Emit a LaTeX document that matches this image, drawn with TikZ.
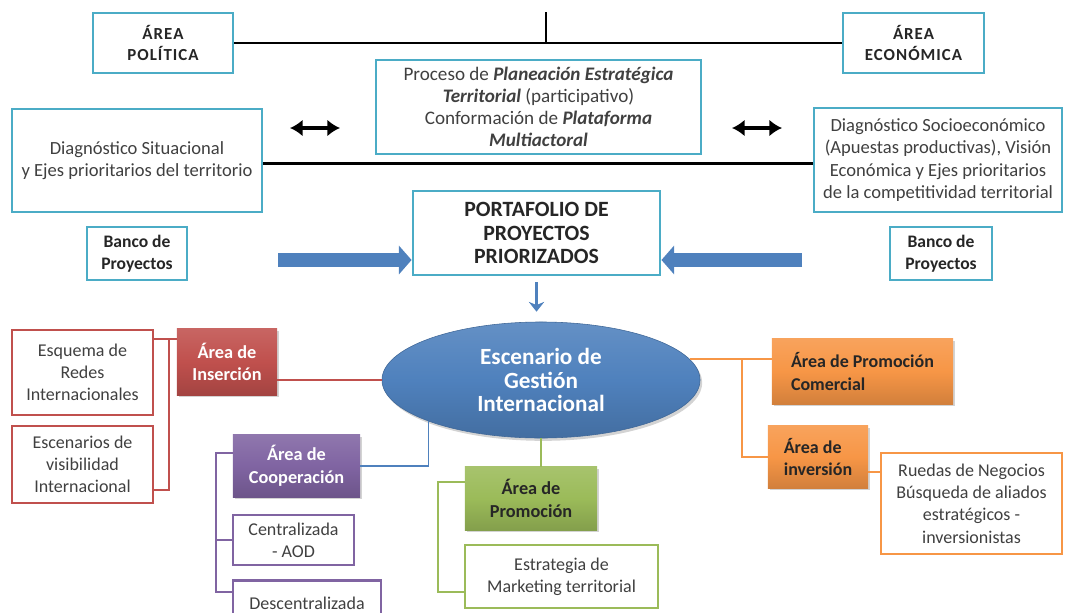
\documentclass[tikz,border=0pt]{standalone}
\usepackage{fontspec}
\setmainfont{Carlito}
\usepackage{tikz}
\usetikzlibrary{arrows.meta,shapes.geometric,shadows}

\definecolor{tealC}{HTML}{4BACC6}
\definecolor{redC}{HTML}{C0504D}
\definecolor{purpC}{HTML}{8064A2}
\definecolor{grnC}{HTML}{9BBB59}
\definecolor{oraC}{HTML}{F79646}
\definecolor{bluC}{HTML}{4F81BD}
\definecolor{txtC}{HTML}{404040}

\tikzset{
  tealbox/.style={draw=tealC,line width=2pt,fill=white,text=txtC,align=center,inner sep=2pt,font=\fontsize{13.2}{15.8}\selectfont},
  areabox/.style={tealbox,text=black!85,font=\fontsize{12}{15}\selectfont\bfseries\addfontfeature{LetterSpace=6}},
  bancobox/.style={tealbox,text=black!85,font=\fontsize{12.5}{16}\selectfont\bfseries},
  outbox/.style={fill=white,line width=2pt,text=txtC,align=center,inner sep=2pt,font=\fontsize{12.8}{15.8}\selectfont},
  fillbox/.style={align=center,inner sep=2pt,drop shadow={opacity=0.35,shadow xshift=1.5pt,shadow yshift=-1.5pt},font=\fontsize{13}{16}\selectfont\bfseries},
  redbox/.style={fillbox,top color=redC!88!white,bottom color=redC!85!black,middle color=redC,text=white},
  purpbox/.style={fillbox,top color=purpC!88!white,bottom color=purpC!85!black,middle color=purpC,text=white},
  grnbox/.style={fillbox,top color=grnC!88!white,bottom color=grnC!85!black,middle color=grnC,text=black!85},
  orabox/.style={fillbox,top color=oraC!88!white,bottom color=oraC!85!black,middle color=oraC,text=black!85,font=\fontsize{12.8}{16}\selectfont\bfseries},
  blkln/.style={line width=2pt},
  dblarr/.style={line width=2.6pt,{Latex[length=9pt,width=12pt]}-{Latex[length=9pt,width=12pt]}},
  bigarr/.style={line width=10pt,draw=bluC,-{Triangle[length=9pt,width=20pt]}},
  brln/.style={line width=1pt}
}

\begin{document}
\begin{tikzpicture}[x=0.025cm,y=-0.025cm]
\useasboundingbox (0,0) rectangle (1078,612);

\node[areabox,minimum width=3.5cm,minimum height=1.5cm] (politica) at (163,43) {ÁREA\\POLÍTICA};
\node[areabox,minimum width=3.525cm,minimum height=1.5cm] (economica) at (913.5,43) {ÁREA\\ECONÓMICA};
\coordinate (vtop) at (546,12);
\draw[blkln] (politica.east) -- (economica.west);
\draw[blkln] (vtop) -- (vtop |- politica.east);

\node[tealbox,font=\fontsize{13.6}{15.6}\selectfont,minimum width=8.125cm,minimum height=2.35cm] (proceso) at (538.5,107) {Proceso de \textbf{\textit{Planeación Estratégica}}\\\textbf{\textit{Territorial}} (participativo)\\Conformación de \textbf{\textit{Plataforma}}\\\textbf{\textit{Multiactoral}}};
\node[tealbox,minimum width=6.25cm,minimum height=2.575cm] (diagL) at (137,160.5) {Diagnóstico Situacional\\y Ejes prioritarios del territorio};
\node[tealbox,minimum width=6.2cm,minimum height=2.6cm] (diagR) at (938,160) {Diagnóstico Socioeconómico\\(Apuestas productivas), Visión\\Económica y Ejes prioritarios\\de la competitividad territorial};
\draw[blkln] ([yshift=-0.075cm]diagL.east) -- ([yshift=-0.075cm]diagL.east -| diagR.west);

\coordinate (dla) at (290,128);
\coordinate (dlb) at (340,128);
\coordinate (dra) at (732,128);
\coordinate (drb) at (782,128);
\draw[dblarr] (dla) -- (dlb);
\draw[dblarr] (dra) -- (drb);

\node[tealbox,text=black!85,font=\fontsize{15.5}{16.8}\selectfont\bfseries,minimum width=6.175cm,minimum height=2.1cm] (port) at (536.5,233) {PORTAFOLIO DE\\PROYECTOS\\PRIORIZADOS};
\node[bancobox,minimum width=2.5cm,minimum height=1.325cm] (bancoL) at (137,253.5) {Banco de\\Proyectos};
\node[bancobox,minimum width=2.55cm,minimum height=1.325cm] (bancoR) at (941,253.5) {Banco de\\Proyectos};
\coordinate (bal) at (278,260);
\coordinate (bar) at (802,260);
\draw[bigarr] (bal) -- (bal -| port.west);
\draw[bigarr] (bar) -- (bar -| port.east);

\node[ellipse,minimum width=7.95cm,minimum height=2.9cm,inner sep=0pt,draw=bluC!80!black,top color=bluC!88!white,bottom color=bluC!85!black,middle color=bluC,drop shadow={opacity=0.35,shadow xshift=1.5pt,shadow yshift=-2pt},text=white,align=center,font=\fontsize{16.5}{16.8}\selectfont\bfseries] (esc) at (541,380) {Escenario de\\Gestión\\Internacional};
\draw[bluC,line width=1.5pt,-{Stealth[length=7pt,width=11pt]},shorten <=0.15cm,shorten >=0.25cm] (port.south) -- (port.south |- esc.north);

\node[redbox,minimum width=2.5cm,minimum height=1.65cm] (ins) at (227,362) {Área de\\Inserción};
\node[outbox,draw=redC,minimum width=3.525cm,minimum height=2.125cm] (esquema) at (82.5,372.5) {Esquema de\\Redes\\Internacionales};
\node[outbox,draw=redC,minimum width=3.525cm,minimum height=1.925cm] (escen) at (82.5,464.5) {Escenarios de\\visibilidad\\Internacional};
\coordinate (rb) at (169,339);
\coordinate (rb2) at (169,490);
\draw[redC,brln] (ins.east |- esc.west) -- (esc.west);
\draw[redC,brln] (esquema.east |- rb) -- (ins.west |- rb);
\draw[redC,brln] (rb) -- (rb2) -- (escen.east |- rb2);

\node[purpbox,minimum width=3.175cm,minimum height=1.55cm] (coop) at (296.5,466) {Área de\\Cooperación};
\node[outbox,draw=purpC,minimum width=3.025cm,minimum height=1.25cm] (central) at (293.5,540) {Centralizada\\- AOD};
\node[outbox,draw=purpC,minimum width=3.7cm,minimum height=1.15cm,anchor=north] (descen) at (307,579) {Descentralizada};
\coordinate (pb) at (216,453);
\coordinate (pb2) at (216,592);
\draw[bluC,brln] (coop.east) -| (esc.south west);
\draw[purpC,brln] (coop.west |- pb) -- (pb) -- (pb2) -- (descen.west |- pb2);
\draw[purpC,brln] (central.west) -- (central.west -| pb);

\node[grnbox,minimum width=3.3cm,minimum height=1.575cm] (promo) at (531,498.5) {Área de\\Promoción};
\node[outbox,draw=grnC,minimum width=4.825cm,minimum height=1.575cm] (estrat) at (561.5,576.5) {Estrategia de\\Marketing territorial};
\coordinate (gb) at (438,482);
\coordinate (gb2) at (438,592);
\draw[grnC,brln] (esc.south) -- (esc.south |- promo.north);
\draw[grnC,brln] (promo.west |- gb) -- (gb) -- (gb2) -- (estrat.west |- gb2);

\node[orabox,align=left,minimum width=4.525cm,minimum height=1.625cm] (comer) at (862.5,371.5) {Área de Promoción\\Comercial};
\node[orabox,align=left,minimum width=2.5cm,minimum height=1.55cm] (inver) at (818,457) {Área de\\inversión};
\node[outbox,draw=oraC,minimum width=4.525cm,minimum height=2.525cm] (ruedas) at (971.5,503.5) {Ruedas de Negocios\\Búsqueda de aliados\\estratégicos -\\inversionistas};
\coordinate (ob) at (742,0);
\draw[oraC,brln] (esc.8) -- (esc.8 -| comer.west);
\draw[oraC,brln] (esc.8 -| ob) -- (ob |- inver.west) -- (inver.west);
\draw[oraC,brln] ([yshift=-0.375cm]inver.east) -- ([yshift=-0.375cm]inver.east -| ruedas.west);
\end{tikzpicture}
\end{document}
